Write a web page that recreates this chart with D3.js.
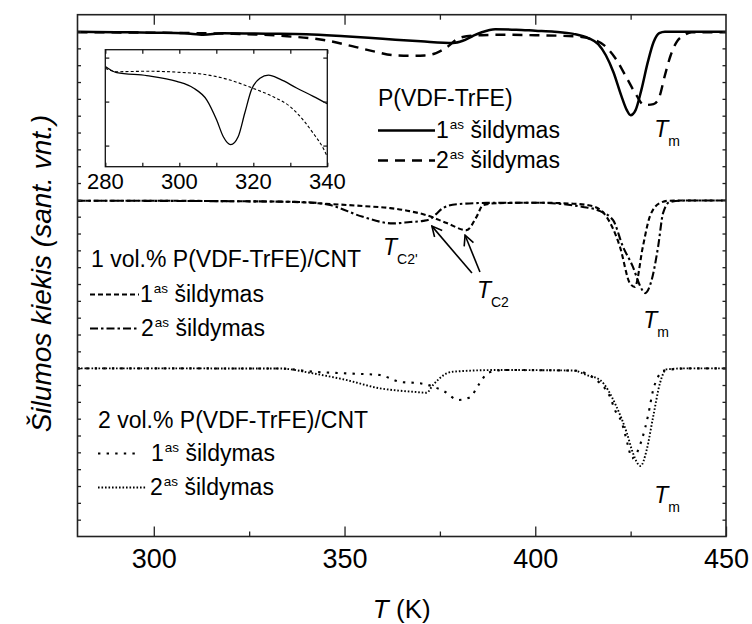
<!DOCTYPE html>
<html>
<head>
<meta charset="utf-8">
<script src="https://cdn.jsdelivr.net/npm/d3@7"></script>
<style>
  html, body { margin: 0; padding: 0; background: #fff; }
  svg { display: block; }
</style>
</head>
<body>
<svg id="chart" width="752" height="624"></svg>
<script>
// ---- DSC heating curves, stacked with vertical offsets (arbitrary units) ----
// Pure P(VDF-TrFE)
const pure1T = [280,290,300,308,313,318,330,340,350,360,370,378.5,381,383.5,386,389.5,395,400,405,410,414,416.5,418.5,420.5,422.5,424,425,426.3,427.8,429.5,431,432.5,434,440,450];
const pure1V = [29.98,29.96,29.93,29.90,29.81,29.90,29.87,29.84,29.72,29.57,29.42,29.32,29.45,29.72,29.96,30.14,30.11,30.05,29.99,29.86,29.60,29.25,28.59,27.58,26.22,25.33,25.03,25.33,26.52,28.18,29.36,29.90,29.99,29.98,29.98];
const pure2T = [280,300,320,335,345,352,358,363,368,371,374,377,379.5,382,386,392,400,410,415,418,421,424,426.5,428.5,431,432.5,434,435.5,437,439,441,450];
const pure2V = [29.96,29.93,29.87,29.72,29.48,29.13,28.80,28.59,28.56,28.58,28.72,29.10,29.55,29.72,29.78,29.81,29.78,29.72,29.54,29.19,28.41,27.23,26.22,25.63,25.69,26.10,27.41,28.59,29.36,29.78,29.96,29.96];

// 1 vol.% P(VDF-TrFE)/CNT
const cnt1aT = [280,300,320,335,345,355,362,367,371.5,376.8,382,384.6,386.3,389.9,400,410,415,418.7,422.2,424.8,426.1,428.2,430,432.6,435,440,450];
const cnt1aV = [19.95,19.95,19.92,19.89,19.77,19.63,19.51,19.33,19.09,18.62,18.20,18.99,19.69,19.80,19.83,19.77,19.63,18.99,17.21,15.05,14.83,17.21,18.99,19.80,19.95,19.96,19.96];
const cnt1bT = [280,320,340,346.2,354.8,362.7,367.2,370.6,372.4,374,375.8,379.4,387.3,400,412.5,417,420.4,423,425.6,427.4,428.8,430.5,432.2,433.5,435.3,440,450];
const cnt1bV = [19.95,19.92,19.86,19.69,18.99,18.60,18.68,18.75,18.85,19.15,19.51,19.74,19.82,19.83,19.58,19.33,18.79,17.21,16.02,14.93,14.46,15.23,17.21,19.21,19.88,19.96,19.96];

// 2 vol.% P(VDF-TrFE)/CNT
const cnt2aT = [280,333,341.8,350.6,359.3,364.5,369.8,376.3,379.8,382.9,385.1,387.7,392,410,417,419.6,420.9,422.6,424.4,425.3,426.6,427.9,428.8,429.6,430.9,432.2,433.5,440,450];
const cnt2aV = [9.99,9.98,9.79,9.69,9.59,9.19,9.10,8.60,8.11,8.27,9.00,9.73,9.89,9.86,9.10,8.30,7.51,6.82,5.33,4.64,4.96,5.73,6.44,7.22,8.70,9.49,9.85,9.99,9.99];
const cnt2bT = [280,333.1,341.7,350.6,359.3,364.5,367.9,371.5,373.2,376.8,378.4,390,410,413.5,417,421.3,424,425.6,427.6,429.2,430.9,432.7,434.4,440,450];
const cnt2bV = [9.99,9.98,9.69,9.29,8.80,8.66,8.60,8.54,9.00,9.69,9.79,9.89,9.86,9.59,9.29,7.71,6.15,4.96,4.19,5.14,7.11,9.12,9.93,9.99,9.99];

// Inset: pure P(VDF-TrFE), 280-340 K
const inset1T = [280,283.1,291.2,299.3,303.8,307.4,310.1,311.9,313.9,315.9,317.7,319.5,321.8,324.1,327.2,331.7,336.2,340];
const inset1V = [1.80,1.66,1.59,1.46,1.31,1.04,0.58,0.20,0.02,0.20,0.74,1.27,1.53,1.60,1.51,1.31,1.12,0.95];
const inset2T = [280,283.1,291.2,299.3,307.4,313.7,320,325.4,329.9,333.5,336.2,338.9,340];
const inset2V = [1.76,1.68,1.69,1.67,1.61,1.49,1.30,1.11,0.89,0.58,0.28,-0.06,-0.25];

// Axis ticks
const xMajor = [300, 350, 400, 450];
const xMinor = [325, 375, 425];
const yMinor = d3.range(1, 31);
const insetXTicks = [280, 290, 300, 310, 320, 330, 340];
const insetXLabels = [280, 300, 320, 340];
const insetYTicks = [0, 1, 2];

// Annotations (data coordinates)
const tmLabels = [[431.2, 23.72], [428.3, 12.38], [431.2, 1.99]];
const tc2Label = [384.7, 14.16];
const tc2pLabel = [360.1, 16.72];
const tc2Arrows = [[[383.4, 15.65], [372.9, 18.44]], [[385.5, 15.71], [381.6, 17.90]]];

// ---- layout ----
const FONT = "Arial, 'Liberation Sans', Helvetica, sans-serif";
const plot = { left: 77.5, right: 726, top: 14.7, bottom: 536.5 };
const ins = { left: 105.3, right: 327.3, top: 49.7, bottom: 166.7 };

const svg = d3.select('#chart').attr('font-family', FONT);

const x = d3.scaleLinear().domain([280, 450]).range([plot.left, plot.right]);
const y = d3.scaleLinear().domain([0, 31]).range([plot.bottom, plot.top]);
const xi = d3.scaleLinear().domain([280, 340]).range([ins.left, ins.right]);
const yi = d3.scaleLinear().domain([-0.48, 2.18]).range([ins.bottom, ins.top]);

const styles = {
  solid:    { dash: null,           width: 2.5 },
  dashed:   { dash: '10,7',         width: 2.4 },
  shortDash:{ dash: '5,3',          width: 2.1 },
  dashDot:  { dash: '8,3,2.5,3',    width: 2.1 },
  sparseDot:{ dash: '2.4,6.2',      width: 2.1 },
  denseDot: { dash: '1.6,1.9',      width: 1.9 }
};

const series = [
  { T: pure1T, V: pure1V, s: styles.solid },
  { T: pure2T, V: pure2V, s: styles.dashed },
  { T: cnt1aT, V: cnt1aV, s: styles.shortDash },
  { T: cnt1bT, V: cnt1bV, s: styles.dashDot },
  { T: cnt2aT, V: cnt2aV, s: styles.sparseDot },
  { T: cnt2bT, V: cnt2bV, s: styles.denseDot }
];

const line = d3.line().x(d => x(d[0])).y(d => y(d[1])).curve(d3.curveMonotoneX);

const defs = svg.append('defs');
defs.append('clipPath').attr('id', 'plotClip')
  .append('rect').attr('x', plot.left).attr('y', plot.top)
  .attr('width', plot.right - plot.left).attr('height', plot.bottom - plot.top);

const curves = svg.append('g').attr('clip-path', 'url(#plotClip)');
series.forEach(sr => {
  curves.append('path')
    .attr('d', line(d3.zip(sr.T, sr.V)))
    .attr('fill', 'none').attr('stroke', '#000')
    .attr('stroke-width', sr.s.width)
    .attr('stroke-dasharray', sr.s.dash)
    .attr('stroke-linejoin', 'round');
});

// ---- axes (ticks inward) ----
function styleAxis(g, size) {
  g.select('.domain').remove();
  g.selectAll('line').attr('stroke', '#222').attr('stroke-width', 1.3);
  g.attr('font-family', FONT).attr('font-size', size);
  g.selectAll('text').attr('fill', '#000');
}
svg.append('g').attr('transform', `translate(0,${plot.bottom})`)
  .call(d3.axisBottom(x).tickValues(xMajor).tickSizeInner(-10).tickSizeOuter(0).tickPadding(12).tickFormat(d3.format('d')))
  .call(g => styleAxis(g, 27));
svg.append('g').attr('transform', `translate(0,${plot.bottom})`)
  .call(d3.axisBottom(x).tickValues(xMinor).tickSizeInner(-5).tickSizeOuter(0).tickFormat(''))
  .call(g => styleAxis(g, 10));
svg.append('g').attr('transform', `translate(0,${plot.top})`)
  .call(d3.axisTop(x).tickValues(xMajor.slice(0, 3)).tickSizeInner(-10).tickSizeOuter(0).tickFormat(''))
  .call(g => styleAxis(g, 10));
svg.append('g').attr('transform', `translate(0,${plot.top})`)
  .call(d3.axisTop(x).tickValues(xMinor).tickSizeInner(-5).tickSizeOuter(0).tickFormat(''))
  .call(g => styleAxis(g, 10));
svg.append('g').attr('transform', `translate(${plot.left},0)`)
  .call(d3.axisLeft(y).tickValues(yMinor).tickSizeInner(-3.5).tickSizeOuter(0).tickFormat(''))
  .call(g => styleAxis(g, 10));
svg.append('g').attr('transform', `translate(${plot.right},0)`)
  .call(d3.axisRight(y).tickValues(yMinor).tickSizeInner(-3.5).tickSizeOuter(0).tickFormat(''))
  .call(g => styleAxis(g, 10));

svg.append('rect')
  .attr('x', plot.left).attr('y', plot.top)
  .attr('width', plot.right - plot.left).attr('height', plot.bottom - plot.top)
  .attr('fill', 'none').attr('stroke', '#222').attr('stroke-width', 1.6);

// axis titles
const xTitle = svg.append('text').attr('x', (plot.left + plot.right) / 2).attr('y', 618)
  .attr('text-anchor', 'middle').attr('font-size', 26);
xTitle.append('tspan').attr('font-style', 'italic').text('T');
xTitle.append('tspan').text(' (K)');

svg.append('text')
  .attr('transform', `translate(51,${(plot.top + plot.bottom) / 2 - 2}) rotate(-90)`)
  .attr('text-anchor', 'middle').attr('font-size', 28).attr('font-style', 'italic')
  .text('Šilumos kiekis (sant. vnt.)');

// ---- inset ----
const inset = svg.append('g');
inset.append('rect').attr('x', ins.left).attr('y', ins.top)
  .attr('width', ins.right - ins.left).attr('height', ins.bottom - ins.top)
  .attr('fill', '#fff');
const iline = d3.line().x(d => xi(d[0])).y(d => yi(d[1])).curve(d3.curveMonotoneX);
inset.append('path').attr('d', iline(d3.zip(inset1T, inset1V)))
  .attr('fill', 'none').attr('stroke', '#000').attr('stroke-width', 1.3);
inset.append('path').attr('d', iline(d3.zip(inset2T, inset2V)))
  .attr('fill', 'none').attr('stroke', '#000').attr('stroke-width', 1.1).attr('stroke-dasharray', '3,2.2');
inset.append('g').attr('transform', `translate(0,${ins.bottom})`)
  .call(d3.axisBottom(xi).tickValues(insetXTicks).tickSizeInner(-4).tickSizeOuter(0).tickFormat(''))
  .call(g => styleAxis(g, 10));
inset.append('g').attr('transform', `translate(0,${ins.top})`)
  .call(d3.axisTop(xi).tickValues(insetXTicks).tickSizeInner(-4).tickSizeOuter(0).tickFormat(''))
  .call(g => styleAxis(g, 10));
inset.append('g').attr('transform', `translate(${ins.left},0)`)
  .call(d3.axisLeft(yi).tickValues(insetYTicks).tickSizeInner(-4).tickSizeOuter(0).tickFormat(''))
  .call(g => styleAxis(g, 10));
inset.append('g').attr('transform', `translate(${ins.right},0)`)
  .call(d3.axisRight(yi).tickValues(insetYTicks).tickSizeInner(-4).tickSizeOuter(0).tickFormat(''))
  .call(g => styleAxis(g, 10));
inset.selectAll('text.ilab').data(insetXLabels).join('text')
  .attr('class', 'ilab').attr('x', d => xi(d)).attr('y', 189)
  .attr('text-anchor', 'middle').attr('font-size', 22).text(d => d);
inset.append('rect').attr('x', ins.left).attr('y', ins.top)
  .attr('width', ins.right - ins.left).attr('height', ins.bottom - ins.top)
  .attr('fill', 'none').attr('stroke', '#111').attr('stroke-width', 1.3);

// ---- legends ----
const LEG_FS = 23;
function legendTitle(tx, ty, label) {
  svg.append('text').attr('x', tx).attr('y', ty).attr('font-size', LEG_FS).text(label);
}
function legendRow(x0, x1, baseline, style, textX, num) {
  svg.append('line').attr('x1', x0).attr('x2', x1)
    .attr('y1', baseline - 7.5).attr('y2', baseline - 7.5)
    .attr('stroke', '#000').attr('stroke-width', style.width)
    .attr('stroke-dasharray', style.dash);
  const t = svg.append('text').attr('x', textX).attr('y', baseline).attr('font-size', LEG_FS);
  t.append('tspan').text(num);
  t.append('tspan').attr('font-size', 13.5).attr('dy', -9.5).attr('dx', 1).text('as');
  t.append('tspan').attr('dy', 9.5).text(' šildymas');
}
legendTitle(378, 106, 'P(VDF-TrFE)');
legendRow(378, 435, 138, styles.solid, 436, '1');
legendRow(378, 435, 168, styles.dashed, 436, '2');

legendTitle(91, 267, '1 vol.% P(VDF-TrFE)/CNT');
legendRow(90, 139, 302, styles.shortDash, 140, '1');
legendRow(90, 137, 336, styles.dashDot, 141, '2');

legendTitle(98, 428, '2 vol.% P(VDF-TrFE)/CNT');
legendRow(98, 140, 461, styles.sparseDot, 151, '1');
legendRow(98, 147, 495, styles.denseDot, 150, '2');

// ---- annotations ----
function tLabel(pos, sub) {
  const t = svg.append('text').attr('x', x(pos[0])).attr('y', y(pos[1])).attr('font-size', 23);
  t.append('tspan').attr('font-style', 'italic').text('T');
  t.append('tspan').attr('font-size', 14).attr('dy', 9).attr('dx', 0).text(sub);
}
tmLabels.forEach(p => tLabel(p, 'm'));
tLabel(tc2Label, 'C2');
tLabel(tc2pLabel, "C2'");

defs.append('marker')
  .attr('id', 'openArrow').attr('viewBox', '0 0 12 12')
  .attr('refX', 11).attr('refY', 6).attr('markerWidth', 12).attr('markerHeight', 12)
  .attr('markerUnits', 'userSpaceOnUse').attr('orient', 'auto')
  .append('path').attr('d', 'M1,1 L11,6 L1,11')
  .attr('fill', 'none').attr('stroke', '#000').attr('stroke-width', 1.6);
tc2Arrows.forEach(a => {
  svg.append('line')
    .attr('x1', x(a[0][0])).attr('y1', y(a[0][1]))
    .attr('x2', x(a[1][0])).attr('y2', y(a[1][1]))
    .attr('stroke', '#000').attr('stroke-width', 1.6)
    .attr('marker-end', 'url(#openArrow)');
});
</script>
</body>
</html>
